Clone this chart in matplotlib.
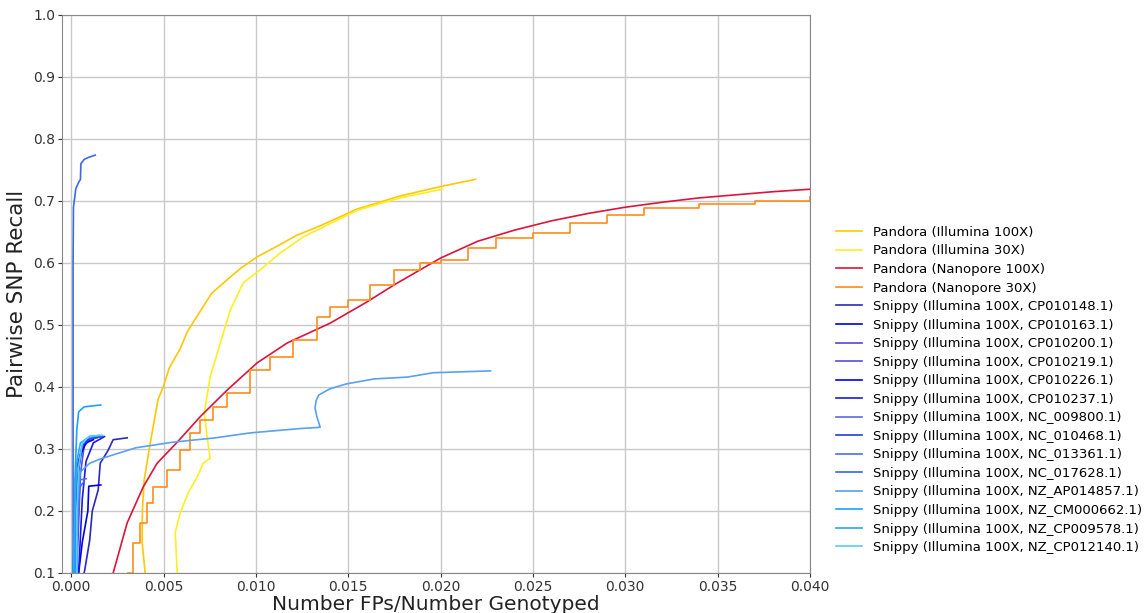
import matplotlib
matplotlib.use("Agg")
import matplotlib.pyplot as plt

# Pandora curves (FP rate, recall)
ill100_x = [0.00400, 0.00384, 0.00385, 0.00395, 0.00428, 0.00470, 0.00498, 0.00530, 0.00590,
            0.00630, 0.00698, 0.00760, 0.00844, 0.00920, 0.01007, 0.01120, 0.01223, 0.01348,
            0.01548, 0.01780, 0.02010, 0.02190]
ill100_y = [0.100, 0.150, 0.200, 0.250, 0.310, 0.380, 0.400, 0.430, 0.462,
            0.490, 0.522, 0.551, 0.573, 0.592, 0.610, 0.628, 0.645, 0.660,
            0.687, 0.708, 0.724, 0.735]

ill30_x = [0.00574, 0.00563, 0.00590, 0.00633, 0.00682, 0.00714, 0.00752, 0.00736, 0.00720,
           0.00752, 0.00807, 0.00861, 0.00931, 0.01023, 0.01131, 0.01256, 0.01364, 0.01548,
           0.01780, 0.02010]
ill30_y = [0.100, 0.165, 0.197, 0.229, 0.255, 0.277, 0.285, 0.319, 0.358,
           0.416, 0.471, 0.524, 0.568, 0.589, 0.616, 0.642, 0.658, 0.685,
           0.705, 0.719]

nano100_x = [0.00227, 0.00303, 0.00390, 0.00465, 0.00574, 0.00698, 0.00844, 0.01007, 0.01169,
             0.01402, 0.01600, 0.01750, 0.02000, 0.02200, 0.02400, 0.02600, 0.02800, 0.03000,
             0.03200, 0.03400, 0.03600, 0.03800, 0.04000, 0.04200]
nano100_y = [0.100, 0.181, 0.239, 0.277, 0.311, 0.352, 0.395, 0.439, 0.471,
             0.503, 0.537, 0.565, 0.608, 0.635, 0.653, 0.668, 0.680, 0.690,
             0.698, 0.705, 0.710, 0.715, 0.719, 0.722]

nano30_x = [0.00309, 0.00336, 0.00373, 0.00411, 0.00444, 0.00520, 0.00590, 0.00644, 0.00698,
            0.00769, 0.00844, 0.00969, 0.01077, 0.01202, 0.01332, 0.01402, 0.01500, 0.01620,
            0.01750, 0.01890, 0.02000, 0.02150, 0.02300, 0.02500, 0.02700, 0.02900, 0.03100,
            0.03400, 0.03700, 0.04000]
nano30_y = [0.100, 0.148, 0.181, 0.213, 0.239, 0.266, 0.298, 0.326, 0.347,
            0.368, 0.390, 0.427, 0.448, 0.476, 0.513, 0.529, 0.540, 0.565,
            0.589, 0.600, 0.605, 0.625, 0.640, 0.648, 0.665, 0.678, 0.688,
            0.695, 0.700, 0.706]

# Snippy curves, one per reference
snippy_refs = ["CP010148.1", "CP010163.1", "CP010200.1", "CP010219.1", "CP010226.1",
               "CP010237.1", "NC_009800.1", "NC_010468.1", "NC_013361.1", "NC_017628.1",
               "NZ_AP014857.1", "NZ_CM000662.1", "NZ_CP009578.1", "NZ_CP012140.1"]
snippy_x = [
    [0.00070, 0.00076, 0.00100, 0.00114, 0.00146, 0.00157, 0.00200, 0.00227, 0.00303],
    [0.00040, 0.00060, 0.00090, 0.00095, 0.00160],
    [0.00020, 0.00030, 0.00040, 0.00060, 0.00090, 0.00140],
    [0.00030, 0.00040, 0.00050, 0.00070, 0.00110, 0.00170],
    [0.00010, 0.00020, 0.00030, 0.00050, 0.00080, 0.00120],
    [0.00040, 0.00050, 0.00060, 0.00080, 0.00120, 0.00180],
    [0.00020, 0.00030, 0.00040, 0.00045, 0.00080],
    [0.00010, 0.00020, 0.00030, 0.00060, 0.00100, 0.00160],
    [0.00020, 0.00025, 0.00030, 0.00050, 0.00070],
    [0.00010, 0.00010, 0.00012, 0.00025, 0.00040, 0.00050, 0.00052, 0.00070, 0.00090, 0.00130],
    [0.00030, 0.00030, 0.00040, 0.00049, 0.00100, 0.00168, 0.00350, 0.00550, 0.00780, 0.00970,
     0.01240, 0.01348, 0.01330, 0.01320, 0.01326, 0.01340, 0.01400, 0.01490, 0.01640, 0.01820,
     0.01960, 0.02270],
    [0.00020, 0.00020, 0.00030, 0.00040, 0.00070, 0.00160],
    [0.00010, 0.00020, 0.00030, 0.00050, 0.00090, 0.00150],
    [0.00030, 0.00030, 0.00040, 0.00060, 0.00100, 0.00170],
]
snippy_y = [
    [0.100, 0.110, 0.153, 0.200, 0.234, 0.277, 0.298, 0.315, 0.318],
    [0.100, 0.150, 0.200, 0.240, 0.242],
    [0.100, 0.200, 0.270, 0.300, 0.315, 0.318],
    [0.100, 0.180, 0.260, 0.305, 0.318, 0.320],
    [0.100, 0.170, 0.240, 0.290, 0.310, 0.315],
    [0.100, 0.160, 0.220, 0.280, 0.310, 0.320],
    [0.100, 0.150, 0.200, 0.250, 0.252],
    [0.100, 0.200, 0.270, 0.305, 0.318, 0.320],
    [0.100, 0.150, 0.200, 0.240, 0.248],
    [0.100, 0.600, 0.690, 0.720, 0.730, 0.735, 0.760, 0.767, 0.770, 0.774],
    [0.100, 0.180, 0.240, 0.263, 0.277, 0.285, 0.302, 0.311, 0.318, 0.326,
     0.333, 0.335, 0.352, 0.366, 0.378, 0.387, 0.397, 0.405, 0.413, 0.416,
     0.423, 0.426],
    [0.100, 0.250, 0.330, 0.360, 0.368, 0.371],
    [0.100, 0.200, 0.280, 0.310, 0.318, 0.322],
    [0.100, 0.200, 0.270, 0.310, 0.321, 0.322],
]
snippy_colors = ["#2a2ab8", "#0000e0", "#4a4ad8", "#5050e0", "#0000ff",
                 "#1a1ae0", "#5a6ae8", "#2040d8", "#4a6ee8", "#3a6ae0",
                 "#5aa0f0", "#1e9fff", "#2aa8f0", "#55ccff"]

fig = plt.figure(figsize=(11.47, 6.13), dpi=100)
ax = fig.add_axes([62 / 1147, 40 / 613, 748 / 1147, 558 / 613])

ax.plot(ill100_x, ill100_y, color="#ffc800", lw=1.2, label="Pandora (Illumina 100X)")
ax.plot(ill30_x, ill30_y, color="#ffee22", lw=1.2, label="Pandora (Illumina 30X)")
ax.plot(nano100_x, nano100_y, color="#dc143c", lw=1.2, label="Pandora (Nanopore 100X)")
ax.plot(nano30_x, nano30_y, color="#ff8c1a", lw=1.2, drawstyle="steps-post",
        label="Pandora (Nanopore 30X)")

for ref, xs, ys, c in zip(snippy_refs, snippy_x, snippy_y, snippy_colors):
    ax.plot(xs, ys, color=c, lw=1.2, label="Snippy (Illumina 100X, %s)" % ref)

ax.set_xlim(-0.0005, 0.040)
ax.set_ylim(0.1, 1.0)
ax.set_xticks([0.0, 0.005, 0.010, 0.015, 0.020, 0.025, 0.030, 0.035, 0.040])
ax.set_xticklabels(["0.000", "0.005", "0.010", "0.015", "0.020", "0.025", "0.030", "0.035", "0.040"])
ax.set_yticks([0.1, 0.2, 0.3, 0.4, 0.5, 0.6, 0.7, 0.8, 0.9, 1.0])
ax.tick_params(labelsize=10, colors="#333333", length=3, pad=2)
ax.grid(True, color="#c8c8c8", lw=1)
ax.set_axisbelow(True)
for s in ax.spines.values():
    s.set_color("#888888")
ax.set_xlabel("Number FPs/Number Genotyped", fontsize=14.5, color="#222222", labelpad=1)
ax.set_ylabel("Pairwise SNP Recall", fontsize=15.5, color="#222222")

fig.legend(loc="center left", bbox_to_anchor=(824 / 1147, 1 - 390 / 613), frameon=False,
           fontsize=9.5, handlelength=2.0, labelspacing=0.42, handletextpad=0.8)

fig.savefig("out.png", dpi=100)
